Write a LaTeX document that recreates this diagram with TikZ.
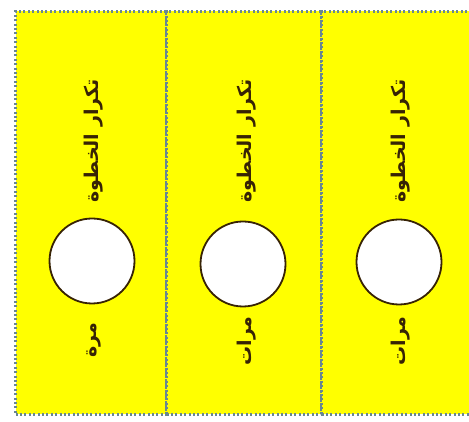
\documentclass[tikz,border=0pt]{standalone}
\usepackage{fontspec}
\newfontfamily\arabicfont[Script=Arabic]{DejaVu Sans}
\TeXXeTstate=1
\usepackage{xcolor}
\definecolor{stripyellow}{RGB}{255,255,0}
\definecolor{dotborder}{RGB}{105,135,145}
\definecolor{ringbrown}{RGB}{55,35,5}
\usetikzlibrary{positioning}

\begin{document}
\begin{tikzpicture}[x=1pt, y=1pt,
    strip/.style={draw=dotborder, dash pattern=on 2pt off 2.4pt, line width=3pt, fill=stripyellow, minimum width=#1, minimum height=403pt, inner sep=0pt, anchor=north west},
    ring/.style={circle, draw=ringbrown, line width=1.8pt, fill=white, minimum size=85pt, inner sep=0pt},
    vlabel/.style={rotate=90, text=ringbrown, font=\arabicfont\bfseries\fontsize{19}{22}\selectfont, inner sep=0pt}]

    \useasboundingbox (0,0) rectangle (469,422);
    \fill[white] (0,0) rectangle (469,422);

    % Alwah: thalathat a'mida
    \node[strip=151pt] (col1) at (14,412) {};
    \node[strip=155pt] (col2) at (165,412) {};
    \node[strip=155pt] (col3) at (320,412) {};

    % Dawa'ir
    \node[ring] (ring1) at (92,161) {};
    \node[ring] (ring2) at (243,158) {};
    \node[ring] (ring3) at (399,160) {};

    % Nusus
    \node[vlabel] (rep1) at (94,281) {\beginR تكرار الخطوة\endR};
    \node[vlabel] (rep2) at (247,281) {\beginR تكرار الخطوة\endR};
    \node[vlabel] (rep3) at (401,281) {\beginR تكرار الخطوة\endR};

    \node[vlabel] (cnt1) at (94,82) {\beginR مرة\endR};
    \node[vlabel] (cnt2) at (247,81) {\beginR مرات\endR};
    \node[vlabel] (cnt3) at (401,81) {\beginR مرات\endR};

\end{tikzpicture}
\end{document}
